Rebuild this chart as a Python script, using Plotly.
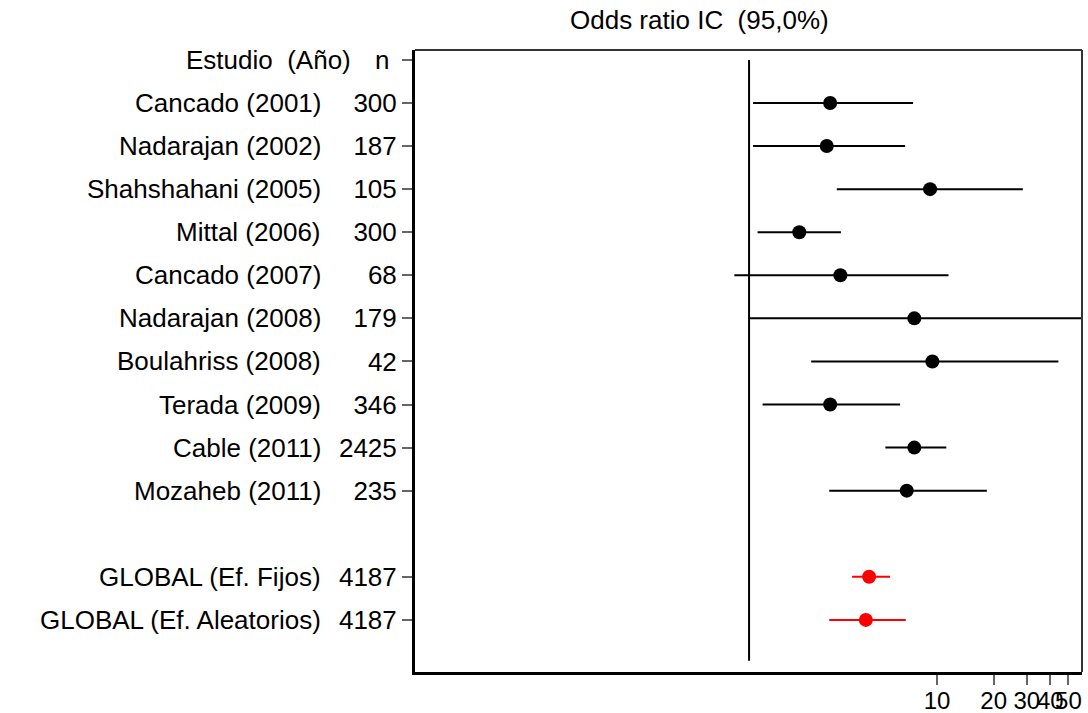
import plotly.graph_objects as go

# ---- data ----
study_labels = ["Estudio  (Año)", "Cancado (2001)", "Nadarajan (2002)", "Shahshahani (2005)",
                "Mittal (2006)", "Cancado (2007)", "Nadarajan (2008)", "Boulahriss (2008)",
                "Terada (2009)", "Cable (2011)", "Mozaheb (2011)",
                "GLOBAL (Ef. Fijos)", "GLOBAL (Ef. Aleatorios)"]
n_labels = ["n ", "300", "187", "105", "300", "68", "179", "42", "346", "2425", "235", "4187", "4187"]

study_or = [2.70, 2.59, 9.18, 1.85, 3.06, 7.57, 9.44, 2.70, 7.57, 6.90]
study_lo = [1.05, 1.05, 2.93, 1.11, 0.835, 1.0, 2.14, 1.18, 5.31, 2.67]
study_hi = [7.45, 6.76, 28.6, 3.08, 11.5, 90.0, 44.2, 6.36, 11.2, 18.4]

global_or = [4.35, 4.18]
global_lo = [3.53, 2.67]
global_hi = [5.62, 6.82]

x_tickvals = [10, 20, 30, 40, 50]
x_ticktext = ["10", "20", "30", "40", "50"]

# ---- layout rows ----
study_rows = list(range(1, 11))
global_rows = [12, 13]
label_rows = [0] + study_rows + global_rows

FONT = "Liberation Sans, Arial, sans-serif"
FS = 26

def ci_segments(lo, hi, rows):
    xs, ys = [], []
    for a, b, r in zip(lo, hi, rows):
        xs += [a, b, None]
        ys += [r, r, None]
    return xs, ys

fig = go.Figure()

sx, sy = ci_segments(study_lo, study_hi, study_rows)
fig.add_trace(go.Scatter(x=sx, y=sy, mode="lines", line=dict(color="black", width=2),
                         hoverinfo="skip", showlegend=False))
fig.add_trace(go.Scatter(x=study_or, y=study_rows, mode="markers",
                         marker=dict(color="black", size=14, symbol="circle"), showlegend=False))

gx, gy = ci_segments(global_lo, global_hi, global_rows)
fig.add_trace(go.Scatter(x=gx, y=gy, mode="lines", line=dict(color="#ff0000", width=2),
                         hoverinfo="skip", showlegend=False))
fig.add_trace(go.Scatter(x=global_or, y=global_rows, mode="markers",
                         marker=dict(color="#ff0000", size=14, symbol="circle"), showlegend=False))

# reference line at OR = 1
fig.add_shape(type="line", xref="x", yref="y", x0=1, x1=1, y0=0, y1=13.95,
              line=dict(color="black", width=2))

# frame: top and right thin lines
fig.add_shape(type="line", xref="paper", yref="paper", x0=0, x1=1, y0=1, y1=1,
              line=dict(color="#333333", width=2))
fig.add_shape(type="line", xref="paper", yref="paper", x0=1, x1=1, y0=0, y1=1,
              line=dict(color="#333333", width=2))

# study name column
for lab, r in zip(study_labels, label_rows):
    fig.add_annotation(text=lab, xref="paper", yref="y", x=0, y=r, xanchor="right",
                       yanchor="middle", xshift=-62 if r == 0 else -92, showarrow=False,
                       font=dict(family=FONT, size=FS, color="black"))

# title
fig.add_annotation(text="Odds ratio IC  (95,0%)", xref="paper", yref="paper",
                   x=0.427, y=1.0, yshift=30, xanchor="center", yanchor="middle", showarrow=False,
                   font=dict(family=FONT, size=FS, color="black"))

fig.update_layout(
    width=1088, height=713,
    margin=dict(l=415, r=6, t=50, b=41, autoexpand=False),
    plot_bgcolor="white", paper_bgcolor="white",
    font=dict(family=FONT, color="black"),
    showlegend=False,
)
fig.update_xaxes(type="log", range=[-1.777, 1.771], tickvals=x_tickvals, ticktext=x_ticktext,
                 tickangle=0, automargin=False, ticklabelstandoff=-5,
                 showgrid=False, zeroline=False, showline=True, linewidth=3, linecolor="black",
                 ticks="outside", ticklen=10, tickwidth=2, tickcolor="#666666",
                 tickfont=dict(family=FONT, size=24, color="black"))
fig.update_yaxes(range=[14.21, -0.23], tickvals=label_rows, ticktext=n_labels, automargin=False,
                 showgrid=False, zeroline=False, showline=True, linewidth=3, linecolor="black",
                 ticks="outside", ticklen=10, tickwidth=2, tickcolor="#666666",
                 tickfont=dict(family=FONT, size=FS, color="black"))

# remove the default page margin so the 1088x713 figure fills the window exactly
fig.write_html("out.html", config={"displayModeBar": False},
               post_script="document.body.style.margin='0';document.body.style.overflow='hidden';")
